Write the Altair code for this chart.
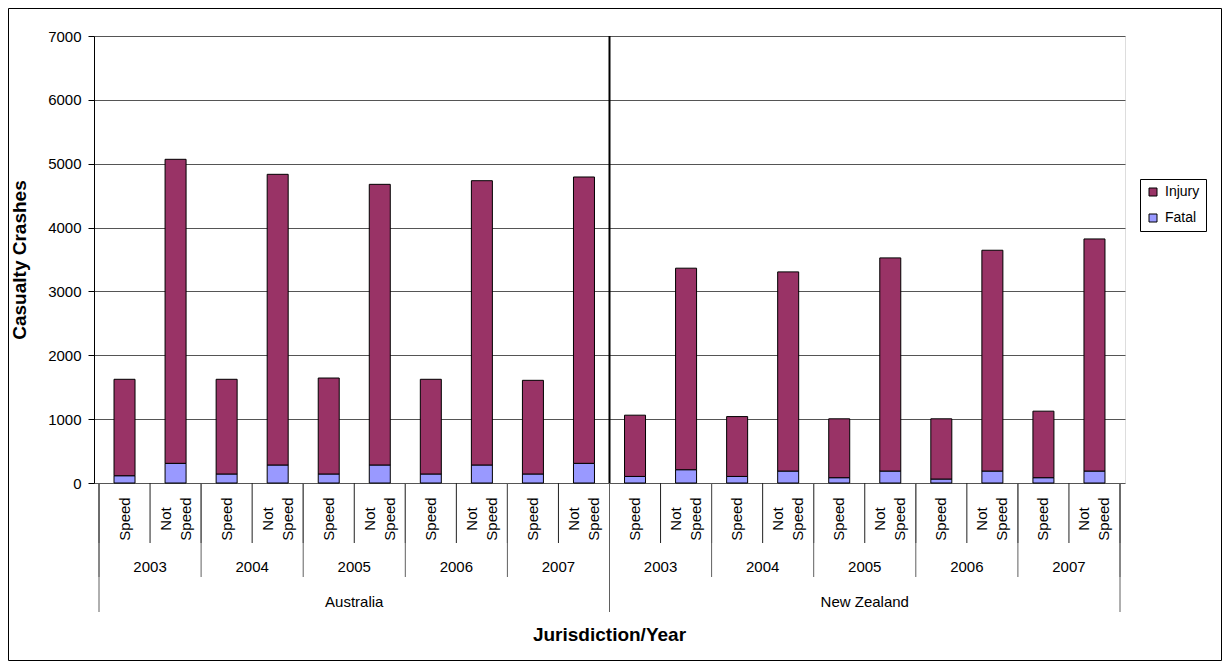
import altair as alt
import pandas as pd

# ---------------- data ----------------
jurisdictions = ["Australia", "New Zealand"]
years = ["2003", "2004", "2005", "2006", "2007"]
crash_types = ["Speed", "Not Speed"]
series = ["Injury", "Fatal"]
series_colors = ["#993366", "#9999FF"]
y_ticks = [0, 1000, 2000, 3000, 4000, 5000, 6000, 7000]

aus_speed_fatal = [114, 141, 141, 141, 141]
aus_speed_injury = [1510, 1483, 1503, 1483, 1467]
aus_notspeed_fatal = [308, 282, 282, 282, 308]
aus_notspeed_injury = [4761, 4552, 4395, 4452, 4484]
nz_speed_fatal = [103, 103, 83, 62, 83]
nz_speed_injury = [959, 937, 922, 943, 1042]
nz_notspeed_fatal = [208, 187, 187, 187, 187]
nz_notspeed_injury = [3156, 3119, 3338, 3458, 3635]

values = {
    ("Australia", "Speed"): (aus_speed_injury, aus_speed_fatal),
    ("Australia", "Not Speed"): (aus_notspeed_injury, aus_notspeed_fatal),
    ("New Zealand", "Speed"): (nz_speed_injury, nz_speed_fatal),
    ("New Zealand", "Not Speed"): (nz_notspeed_injury, nz_notspeed_fatal),
}

# ---------------- tables built from the arrays ----------------
n_types = len(crash_types)
n_per_jur = len(years) * n_types
n_total = len(jurisdictions) * n_per_jur

bar_rows, cat_rows, year_rows, jur_rows = [], [], [], []
for j, jur in enumerate(jurisdictions):
    jur_rows.append({"pos": j * n_per_jur + n_per_jur / 2, "label": jur})
    for yi, yr in enumerate(years):
        year_rows.append({"pos": j * n_per_jur + yi * n_types + n_types / 2, "label": yr})
        for ti, ct in enumerate(crash_types):
            p = j * n_per_jur + yi * n_types + ti + 0.5
            cat_rows.append({"pos": p, "label": ct})
            inj, fat = values[(jur, ct)]
            bar_rows.append({"pos": p, "series": "Fatal", "value": fat[yi], "ord": 0})
            bar_rows.append({"pos": p, "series": "Injury", "value": inj[yi], "ord": 1})

bars_df = pd.DataFrame(bar_rows)
cat_df = pd.DataFrame(cat_rows)
year_df = pd.DataFrame(year_rows)
jur_df = pd.DataFrame(jur_rows)
cat_sep = pd.DataFrame({"pos": list(range(n_total + 1))})
year_sep = pd.DataFrame({"pos": list(range(0, n_total + 1, n_types))})
jur_sep = pd.DataFrame({"pos": list(range(0, n_total + 1, n_per_jur))})
mid_sep = pd.DataFrame({"pos": list(range(n_per_jur, n_total, n_per_jur))})

FONT = "Liberation Sans"
W, H = 1031, 447
LH = 20
xs = alt.Scale(domain=[0, n_total], nice=False, zero=False)

bars = alt.Chart(bars_df).mark_bar(size=21, stroke="black", strokeWidth=1).encode(
    x=alt.X("pos:Q", scale=xs,
            axis=alt.Axis(labels=False, ticks=False, grid=False, domain=True,
                          domainColor="black", domainWidth=1, title=None)),
    y=alt.Y("value:Q", stack="zero",
            scale=alt.Scale(domain=[0, 7000], nice=False),
            axis=alt.Axis(values=y_ticks, title="Casualty Crashes", format="d",
                          labelFont=FONT, labelFontSize=15, labelColor="black",
                          labelPadding=7, tickColor="black", tickSize=6,
                          domainColor="black", gridColor="#555555", gridWidth=1,
                          titleFont=FONT, titleFontSize=19, titleFontWeight="bold",
                          titleColor="black", titlePadding=18)),
    color=alt.Color("series:N",
                    scale=alt.Scale(domain=series, range=series_colors),
                    legend=alt.Legend(title=None, orient="none", legendX=1046, legendY=143,
                                      strokeColor="black", fillColor="white", padding=6,
                                      labelFont=FONT, labelFontSize=14, labelColor="black",
                                      symbolType="square", symbolSize=64,
                                      symbolStrokeColor="black", symbolStrokeWidth=1,
                                      rowPadding=12, labelOffset=5, cornerRadius=0)),
    order=alt.Order("ord:Q"),
)

sep_color = "#404040"
cat_rules = alt.Chart(cat_sep).mark_rule(color="#202020", strokeWidth=1).encode(
    x=alt.X("pos:Q", scale=xs, axis=None), y=alt.value(H), y2=alt.value(H + 60))
year_rules = alt.Chart(year_sep).mark_rule(color="#606060", strokeWidth=1).encode(
    x=alt.X("pos:Q", scale=xs, axis=None), y=alt.value(H), y2=alt.value(H + 94))
jur_rules = alt.Chart(jur_sep).mark_rule(color="#606060", strokeWidth=1).encode(
    x=alt.X("pos:Q", scale=xs, axis=None), y=alt.value(H), y2=alt.value(H + 129))
mid_rule = alt.Chart(mid_sep).mark_rule(color="black", strokeWidth=2).encode(
    x=alt.X("pos:Q", scale=xs, axis=None), y=alt.value(0), y2=alt.value(H))

cat_base = alt.Chart(cat_df).encode(
    x=alt.X("pos:Q", scale=xs, axis=None), y=alt.value(H + 36), text="label:N")
cat_single = cat_base.transform_filter("indexof(datum.label, ' ') < 0").mark_text(
    angle=270, font=FONT, fontSize=15, align="center", baseline="middle", color="black")
cat_multi = cat_base.transform_filter("indexof(datum.label, ' ') >= 0").mark_text(
    angle=270, font=FONT, fontSize=15, lineBreak=" ", lineHeight=LH, dy=-LH / 2,
    align="center", baseline="middle", color="black")

year_text = alt.Chart(year_df).mark_text(
    font=FONT, fontSize=15, align="center", baseline="middle", color="black").encode(
    x=alt.X("pos:Q", scale=xs, axis=None), y=alt.value(H + 84), text="label:N")
jur_text = alt.Chart(jur_df).mark_text(
    font=FONT, fontSize=15, align="center", baseline="middle", color="black").encode(
    x=alt.X("pos:Q", scale=xs, axis=None), y=alt.value(H + 119), text="label:N")
x_title = alt.Chart(pd.DataFrame({"t": ["Jurisdiction/Year"]})).mark_text(
    font=FONT, fontSize=19, fontWeight="bold", align="center", baseline="middle",
    color="black").encode(x=alt.value(W / 2), y=alt.value(H + 152), text="t:N")

frame = alt.Chart(pd.DataFrame({"k": [0]})).mark_rect(
    fill="transparent", stroke="black", strokeWidth=1).encode(
    x=alt.value(-85.5), x2=alt.value(W + 96.5), y=alt.value(-27.5), y2=alt.value(H + 177.5))

chart = alt.layer(
    frame, bars, cat_rules, year_rules, jur_rules, mid_rule,
    cat_single, cat_multi, year_text, jur_text, x_title,
).properties(
    width=W, height=H,
    padding={"left": 86, "top": 28, "right": 97, "bottom": 178},
    autosize="none",
).configure_view(stroke="#808080", strokeWidth=1).configure(background="white")

chart.save("out.html", embed_options={"renderer": "svg", "actions": False})
